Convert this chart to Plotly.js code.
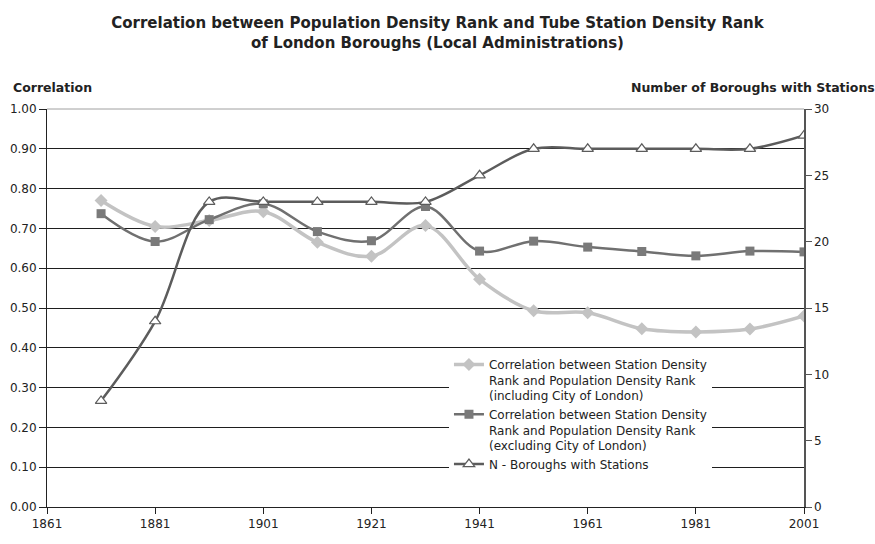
<!DOCTYPE html>
<html>
<head>
<meta charset="utf-8">
<script src="https://cdn.plot.ly/plotly-3.0.1.min.js"></script>
<style>html,body{margin:0;padding:0;background:#fff;}#chart{width:875px;height:544px;}</style>
</head>
<body>
<div id="chart"></div>
<script>
const years = [1871, 1881, 1891, 1901, 1911, 1921, 1931, 1941, 1951, 1961, 1971, 1981, 1991, 2001];
const corrIncludingCity = [0.77, 0.705, 0.72, 0.742, 0.665, 0.63, 0.707, 0.572, 0.493, 0.488, 0.448, 0.44, 0.447, 0.48];
const corrExcludingCity = [0.737, 0.667, 0.722, 0.762, 0.692, 0.669, 0.755, 0.643, 0.668, 0.653, 0.642, 0.631, 0.643, 0.641];
const boroughsWithStations = [8, 14, 23, 23, 23, 23, 23, 25, 27, 27, 27, 27, 27, 28];

const nameIncl = "Correlation between Station Density<br>Rank and Population Density Rank<br>(including City of London)";
const nameExcl = "Correlation between Station Density<br>Rank and Population Density Rank<br>(excluding City of London)";
const nameN = "N - Boroughs with Stations";

const FONT = "DejaVu Sans, Verdana, sans-serif";

const traces = [
  {
    x: years, y: corrIncludingCity, name: nameIncl, type: 'scatter', mode: 'lines+markers',
    line: {color: '#c3c3c3', width: 3.5, shape: 'spline', smoothing: 1},
    marker: {symbol: 'diamond', size: 10, color: '#c3c3c3'},
    yaxis: 'y'
  },
  {
    x: years, y: corrExcludingCity, name: nameExcl, type: 'scatter', mode: 'lines+markers',
    line: {color: '#707070', width: 2.5, shape: 'spline', smoothing: 1},
    marker: {symbol: 'square', size: 9, color: '#7a7a7a'},
    yaxis: 'y'
  },
  {
    x: years, y: boroughsWithStations, name: nameN, type: 'scatter', mode: 'lines+markers',
    line: {color: '#5c5c5c', width: 2.5, shape: 'spline', smoothing: 1},
    marker: {symbol: 'triangle-up', size: 10, color: '#ffffff', line: {color: '#5c5c5c', width: 1.2}},
    yaxis: 'y2'
  }
];

const layout = {
  width: 875, height: 544,
  margin: {l: 47, r: 71, t: 109, b: 37},
  paper_bgcolor: '#ffffff', plot_bgcolor: '#ffffff',
  font: {family: FONT, size: 12, color: '#222222'},
  title: {
    text: '<b>Correlation between Population Density Rank and Tube Station Density Rank<br>of London Boroughs (Local Administrations)</b>',
    font: {family: FONT, size: 15, color: '#222222'},
    x: 0.5, xanchor: 'center', y: 0.948, yanchor: 'top', yref: 'container'
  },
  showlegend: true,
  legend: {
    x: 0.531, y: 0.394, xanchor: 'left', yanchor: 'top',
    bgcolor: '#ffffff', borderwidth: 0,
    font: {family: FONT, size: 12, color: '#222222'},
    valign: 'top', itemwidth: 30, tracegroupgap: 0
  },
  xaxis: {
    range: [1861, 2001], tick0: 1861, dtick: 20, tickmode: 'linear',
    showgrid: false, zeroline: false,
    showline: true, linecolor: '#222222', linewidth: 1,
    ticks: 'outside', ticklen: 6, tickcolor: '#222222',
    tickfont: {family: FONT, size: 12, color: '#222222'}
  },
  yaxis: {
    range: [0, 1], dtick: 0.1, tick0: 0, tickmode: 'linear', tickformat: '.2f',
    showgrid: true, gridcolor: '#1e1e1e', gridwidth: 1, zeroline: false,
    showline: true, linecolor: '#222222', linewidth: 1,
    ticks: 'outside', ticklen: 7, tickcolor: '#222222',
    tickfont: {family: FONT, size: 12, color: '#222222'}
  },
  yaxis2: {
    range: [0, 30], dtick: 5, tick0: 0, tickmode: 'linear',
    overlaying: 'y', side: 'right', showgrid: false, zeroline: false,
    showline: true, linecolor: '#555555', linewidth: 1.5,
    ticks: 'outside', ticklen: 6, tickcolor: '#555555',
    tickfont: {family: FONT, size: 12, color: '#222222'}
  },
  shapes: [
    {type: 'line', xref: 'paper', yref: 'paper', x0: 0, x1: 1, y0: 1, y1: 1,
     line: {color: '#a0a0a0', width: 1}, layer: 'above'}
  ],
  annotations: [
    {text: '<b>Correlation</b>', xref: 'paper', yref: 'paper', x: -0.048, y: 1.053,
     xanchor: 'left', yanchor: 'middle', showarrow: false, font: {family: FONT, size: 12.5, color: '#222222'}},
    {text: '<b>Number of Boroughs with Stations</b>', xref: 'paper', yref: 'paper', x: 1.096, y: 1.053,
     xanchor: 'right', yanchor: 'middle', showarrow: false, font: {family: FONT, size: 12.5, color: '#222222'}}
  ]
};

Plotly.newPlot('chart', traces, layout, {displayModeBar: false, staticPlot: true});
</script>
</body>
</html>
